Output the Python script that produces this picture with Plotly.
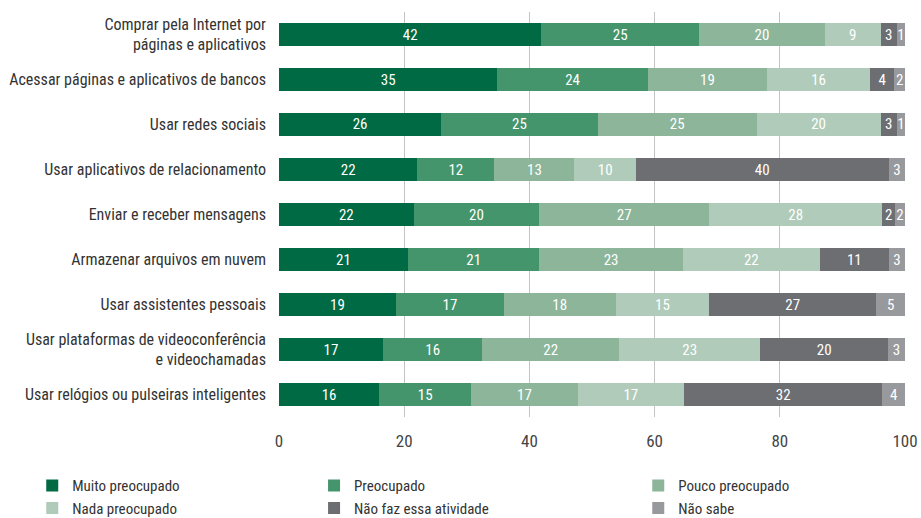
import plotly.graph_objects as go

categories = [
    "Comprar pela Internet por<br>páginas e aplicativos",
    "Acessar páginas e aplicativos de bancos",
    "Usar redes sociais",
    "Usar aplicativos de relacionamento",
    "Enviar e receber mensagens",
    "Armazenar arquivos em nuvem",
    "Usar assistentes pessoais",
    "Usar plataformas de videoconferência<br>e videochamadas",
    "Usar relógios ou pulseiras inteligentes",
]

series_names = ["Muito preocupado", "Preocupado", "Pouco preocupado",
                "Nada preocupado", "Não faz essa atividade", "Não sabe"]

muito_preocupado = [41.9, 34.9, 25.9, 22.1, 21.5, 20.6, 18.7, 16.6, 16.0]
preocupado       = [25.2, 24.0, 25.0, 12.3, 20.1, 21.0, 17.2, 15.9, 14.7]
pouco_preocupado = [20.1, 19.1, 25.4, 12.8, 27.1, 22.9, 17.9, 21.8, 17.0]
nada_preocupado  = [8.9, 16.4, 19.8, 9.8, 27.7, 21.9, 14.9, 22.6, 17.0]
nao_faz          = [2.6, 3.9, 2.6, 40.4, 2.0, 11.0, 26.7, 20.4, 31.7]
nao_sabe         = [1.3, 1.7, 1.3, 2.6, 1.6, 2.6, 4.6, 2.7, 3.6]

series_values = [muito_preocupado, preocupado, pouco_preocupado,
                 nada_preocupado, nao_faz, nao_sabe]
colors = ["#006a44", "#44946c", "#8cb59a", "#b0cbb9", "#6d6e72", "#98999d"]
legend_ids = ["legend", "legend2", "legend3", "legend", "legend2", "legend3"]

FONT = "Roboto Condensed, Liberation Sans Narrow, Roboto, sans-serif"

fig = go.Figure()
for name, vals, col, lg in zip(series_names, series_values, colors, legend_ids):
    fig.add_trace(go.Bar(
        y=categories, x=vals, name=name, orientation="h",
        marker=dict(color=col, line=dict(width=0)),
        texttemplate="%{x:.0f}", textposition="inside", textangle=0,
        insidetextanchor="middle",
        textfont=dict(color="white", size=15, family=FONT),
        legend=lg, width=0.53,
    ))

legend_common = dict(orientation="v", yanchor="top", y=0.094, yref="container",
                     xanchor="left", xref="container", bgcolor="rgba(0,0,0,0)",
                     font=dict(size=15, color="#333333", family=FONT),
                     traceorder="normal", tracegroupgap=0, itemwidth=30)

fig.update_layout(
    barmode="stack",
    width=921, height=518,
    margin=dict(l=279, r=16, t=12, b=101, autoexpand=False),
    paper_bgcolor="white", plot_bgcolor="white",
    font=dict(family=FONT, color="#333333"),
    uniformtext=dict(minsize=15, mode="show"),
    bargap=0.47,
    xaxis=dict(range=[0, 100], tickvals=[0, 20, 40, 60, 80, 100],
               showgrid=True, gridcolor="#c4c4c4", gridwidth=1,
               zeroline=False, showline=False, automargin=False,
               tickfont=dict(size=17, color="#444444", family=FONT),
               ticklabelstandoff=12, fixedrange=True),
    yaxis=dict(autorange="reversed", showgrid=False, zeroline=False,
               showline=False, ticks="", ticklabelstandoff=12, automargin=False,
               tickfont=dict(size=16, color="#333333", family=FONT)),
    legend=dict(legend_common, x=0.035),
    legend2=dict(legend_common, x=0.341),
    legend3=dict(legend_common, x=0.693),
    showlegend=True,
)

fig.write_html("out.html")
